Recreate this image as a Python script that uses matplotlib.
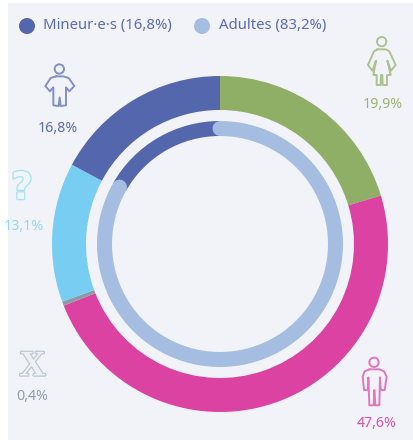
import numpy as np
import matplotlib
matplotlib.use("Agg")
import matplotlib.pyplot as plt
from matplotlib.patches import Circle, Rectangle
from matplotlib.path import Path
from matplotlib.patches import PathPatch
import matplotlib.patheffects as pe

plt.rcParams['font.family'] = ['Noto Sans', 'DejaVu Sans']

# Data
outer_labels = ['Femmes', 'Hommes', 'X', 'Inconnu', 'Mineur·e·s']
outer_values = [19.9, 47.6, 0.4, 13.1, 16.8]
outer_texts = ['19,9%', '47,6%', '0,4%', '13,1%', '16,8%']
outer_colors = ['#8fae66', '#dc42a2', '#8d9ba6', '#77cef2', '#5467ad']
text_colors = ['#9ab56f', '#e04fa8', '#8d9dab', '#8fd8f6', '#5a6cb0']
age_labels = ['Mineur·e·s (16,8%)', 'Adultes (83,2%)']
age_values = [16.8, 83.2]
age_colors = ['#5467ad', '#a4bde0']
BG = '#f2f3f9'

W, H = 413, 440
fig = plt.figure(figsize=(W / 100, H / 100), dpi=100, facecolor='white')

# pixel-space overlay
ax = fig.add_axes([0, 0, 1, 1])
ax.set_xlim(0, W)
ax.set_ylim(H, 0)
ax.axis('off')
panel = Rectangle((8, 3), W - 8, H - 3, facecolor=BG, edgecolor='none', zorder=0)
ax.add_patch(panel)

# Donuts
cx, cy, R = 220, 244, 168
pie_ax = fig.add_axes([(cx - R) / W, 1 - (cy + R) / H, 2 * R / W, 2 * R / H])
pie_ax.set_facecolor('none')
pie_ax.pie(outer_values, colors=outer_colors, startangle=90, counterclock=False, radius=1.0,
           wedgeprops=dict(width=34 / R, linewidth=0))
r_in = 115.5
wid = 15
pie_ax.pie(age_values, colors=[age_colors[0], 'none'], startangle=90 + 360 * age_values[1] / sum(age_values) * -1,
           counterclock=False, radius=(r_in + wid / 2) / R,
           wedgeprops=dict(width=wid / R, linewidth=0))
pie_ax.set_xlim(-1, 1)
pie_ax.set_ylim(-1, 1)
theta = np.linspace(0, 2 * np.pi * age_values[1] / sum(age_values), 300)
pie_ax.plot(r_in / R * np.sin(theta), r_in / R * np.cos(theta), color=age_colors[1],
            lw=wid * 0.72, solid_capstyle='round', zorder=5)

# Legend
for x, tx, lab, col in zip([27, 202], [43, 219], age_labels, age_colors):
    ax.add_patch(Circle((x, 26), 8, facecolor=col, edgecolor='none', zorder=3))
    ax.text(tx, 25, lab, color='#5a6cb0', fontsize=10.7, va='center', ha='left', zorder=3)


def icon(points, ox, oy, color, head, head_r, lw=1.4):
    pts = [(ox + p[0] / 3, oy + p[1] / 3) for p in points]
    codes = [Path.MOVETO] + [Path.LINETO] * (len(pts) - 1)
    ax.add_patch(PathPatch(Path(pts, codes), fill=False, edgecolor=color, lw=lw, alpha=0.7,
                           joinstyle='round', capstyle='round', zorder=3))
    ax.add_patch(Circle((ox + head[0] / 3, oy + head[1] / 3), head_r / 3, fill=False,
                        edgecolor=color, lw=lw, alpha=0.7, zorder=3))


child = [(78, 79), (62, 84), (46, 108), (60, 124), (70, 112), (70, 166), (86, 168), (89, 142),
         (92, 168), (108, 166), (108, 112), (118, 124), (133, 108), (116, 84), (100, 79), (78, 79)]
icon(child, 30, 50, outer_colors[4], (88, 57), 14)

man = [(88, 88), (74, 94), (68, 110), (72, 150), (84, 150), (85, 112), (88, 196), (101, 196), (103, 150),
       (106, 196), (118, 196), (120, 112), (122, 150), (134, 150), (140, 110), (132, 94), (118, 88), (88, 88)]
icon(man, 340, 340, outer_colors[1], (102, 67), 14)

woman = [(112, 88), (102, 94), (84, 135), (97, 152), (108, 122), (100, 165), (110, 165), (110, 195), (122, 195),
         (123, 165), (127, 165), (128, 195), (141, 195), (141, 165), (152, 165), (142, 122), (153, 152),
         (167, 135), (148, 94), (138, 88), (112, 88)]
icon(woman, 340, 20, outer_colors[0], (125, 65), 14)

# Glyph icons
stroke = lambda c: [pe.withStroke(linewidth=1.8, foreground=c)]
ax.text(22, 189, '?', fontsize=27, family='DejaVu Sans', fontweight='bold', color='#eef6fc', ha='center', va='center',
        path_effects=stroke('#a5e0f8'), zorder=3).set_clip_path(panel)
ax.text(32.5, 367, 'X', fontsize=26, family='Liberation Serif', fontweight='bold', color='#eef0f4', ha='center', va='center',
        path_effects=stroke('#bcc8d0'), zorder=3)

# Value labels
lab_pos = [(383, 105), (377, 423.5), (32, 396.5), (24, 226), (58, 128.5)]
for (x, y), t, c in zip(lab_pos, outer_texts, text_colors):
    txt = ax.text(x, y, t, color=c, fontsize=10.2, ha='center', va='center', zorder=3)
    txt.set_clip_path(panel)

fig.savefig('out.png', dpi=100, facecolor='white')
